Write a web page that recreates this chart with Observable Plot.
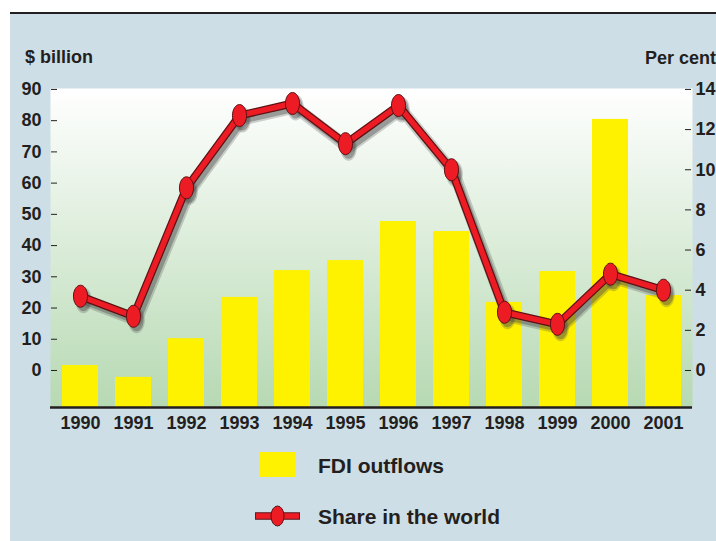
<!DOCTYPE html>
<html><head><meta charset="utf-8">
<script src="https://cdn.jsdelivr.net/npm/d3@7"></script>
<script src="https://cdn.jsdelivr.net/npm/@observablehq/plot@0.6"></script>
<style>
body{margin:0;background:#fff;font-family:"Liberation Sans",Arial,sans-serif;}
#page{position:relative;width:716px;height:541px;overflow:hidden;background:#fff;}
#panel{position:absolute;left:10px;top:14px;right:0;bottom:0;background:#cddee6;}
#rule{position:absolute;left:10px;top:12px;right:0;height:2px;background:#231f20;}
#chart{position:absolute;left:0;top:0;}
.t{position:absolute;font-weight:bold;color:#231f20;line-height:1;white-space:nowrap;}
.title{font-size:18px;}
.leg{font-size:21px;}
#swatch{position:absolute;left:259px;top:452px;width:37px;height:25px;background:#fff200;}
#icon{position:absolute;left:253px;top:505px;}
</style>
</head><body>
<div id="page">
  <div id="panel"></div>
  <div id="rule"></div>
  <div class="t title" style="left:25px;top:48px;">$ billion</div>
  <div class="t title" style="left:645px;top:49px;">Per cent</div>
  <div id="chart"></div>
  <div id="swatch"></div>
  <div class="t leg" style="left:318px;top:455px;">FDI outflows</div>
  <svg id="icon" width="50" height="22">
    <line x1="2" y1="11" x2="47" y2="11" stroke="#5c1114" stroke-width="7.5"/>
    <line x1="2.8" y1="11" x2="46.2" y2="11" stroke="#ed1c24" stroke-width="5.5"/>
    <ellipse cx="24.5" cy="11" rx="6.5" ry="10" fill="#ed1c24" stroke="#5c1114" stroke-width="1"/>
  </svg>
  <div class="t leg" style="left:318px;top:506px;">Share in the world</div>
</div>
<script>
const years = [1990, 1991, 1992, 1993, 1994, 1995, 1996, 1997, 1998, 1999, 2000, 2001];
const fdiOutflows = [1.6, -2.2, 10.2, 23.4, 32.0, 35.2, 47.7, 44.5, 21.8, 31.7, 80.4, 24.0];
const shareInWorld = [3.7, 2.7, 9.1, 12.7, 13.3, 11.3, 13.2, 10.0, 2.9, 2.3, 4.8, 4.0];
const leftTicks = [0, 10, 20, 30, 40, 50, 60, 70, 80, 90];
const rightTicks = [0, 2, 4, 6, 8, 10, 12, 14];
const leftMax = 90, rightMax = 14;
const yDomain = [-11.85, 90.3];

const k = leftMax / rightMax;
const data = years.map((year, i) => ({year: String(year), fdi: fdiOutflows[i], share: shareInWorld[i], shareY: shareInWorld[i] * k}));

const ellipse = {
  draw(context, size) {
    const r = Math.sqrt(size / Math.PI);
    const rx = r * 0.64, ry = r, c = 0.5523;
    context.moveTo(rx, 0);
    context.bezierCurveTo(rx, c * ry, c * rx, ry, 0, ry);
    context.bezierCurveTo(-c * rx, ry, -rx, c * ry, -rx, 0);
    context.bezierCurveTo(-rx, -c * ry, -c * rx, -ry, 0, -ry);
    context.bezierCurveTo(c * rx, -ry, rx, -c * ry, rx, 0);
    context.closePath();
  }
};

const shadow = {dx: 3, dy: 4};

const plot = Plot.plot({
  width: 716, height: 440,
  marginTop: 88, marginBottom: 33, marginLeft: 50, marginRight: 24,
  style: {background: "transparent", color: "#231f20", fontFamily: "Liberation Sans, Arial, sans-serif", fontSize: "18px", fontWeight: "bold", overflow: "visible"},
  x: {type: "band", domain: years.map(String), paddingInner: 0.33, paddingOuter: 0.18, label: null},
  y: {domain: yDomain, label: null},
  marks: [
    Plot.frame({fill: "url(#plotbg)", stroke: "none"}),
    Plot.barY(data, {x: "year", y1: yDomain[0], y2: "fdi", fill: "#fff200"}),
    Plot.ruleY([yDomain[0]], {stroke: "#231f20", strokeWidth: 2.5}),
    Plot.axisX({tickSize: 0, tickPadding: 9, label: null}),
    Plot.axisY(leftTicks, {tickSize: 6, dx: 7, fill: "none", stroke: "#231f20", label: null}),
    Plot.axisY(leftTicks, {tickSize: 0, tickPadding: 9, label: null}),
    Plot.axisY(rightTicks.map(v => v * k), {anchor: "right", tickSize: 6, dx: -8, fill: "none", stroke: "#231f20", label: null}),
    Plot.axisY(rightTicks.map(v => v * k), {anchor: "right", tickSize: 0, tickPadding: 3, tickFormat: d => String(Math.round(d / k)), label: null}),
    // soft drop shadow
    Plot.line(data, {x: "year", y: "shareY", stroke: "#4a4a4a", strokeOpacity: 0.25, strokeWidth: 12, ...shadow}),
    Plot.line(data, {x: "year", y: "shareY", stroke: "#4a4a4a", strokeOpacity: 0.4, strokeWidth: 8, ...shadow}),
    Plot.dot(data, {x: "year", y: "shareY", r: 13, symbol: ellipse, fill: "#4a4a4a", fillOpacity: 0.25, ...shadow}),
    Plot.dot(data, {x: "year", y: "shareY", r: 11, symbol: ellipse, fill: "#4a4a4a", fillOpacity: 0.4, ...shadow}),
    // line with outline
    Plot.line(data, {x: "year", y: "shareY", stroke: "#5c1114", strokeWidth: 8}),
    Plot.line(data, {x: "year", y: "shareY", stroke: "#ed1c24", strokeWidth: 5.5}),
    Plot.dot(data, {x: "year", y: "shareY", r: 11, symbol: ellipse, fill: "#ed1c24", stroke: "#5c1114", strokeWidth: 1})
  ]
});

const ns = "http://www.w3.org/2000/svg";
const defs = document.createElementNS(ns, "defs");
defs.innerHTML = '<linearGradient id="plotbg" x1="0" y1="0" x2="0" y2="1"><stop offset="0" stop-color="#ffffff"/><stop offset="1" stop-color="#b6d9b2"/></linearGradient>';
plot.insertBefore(defs, plot.firstChild);
document.getElementById("chart").appendChild(plot);
</script>
</body></html>
